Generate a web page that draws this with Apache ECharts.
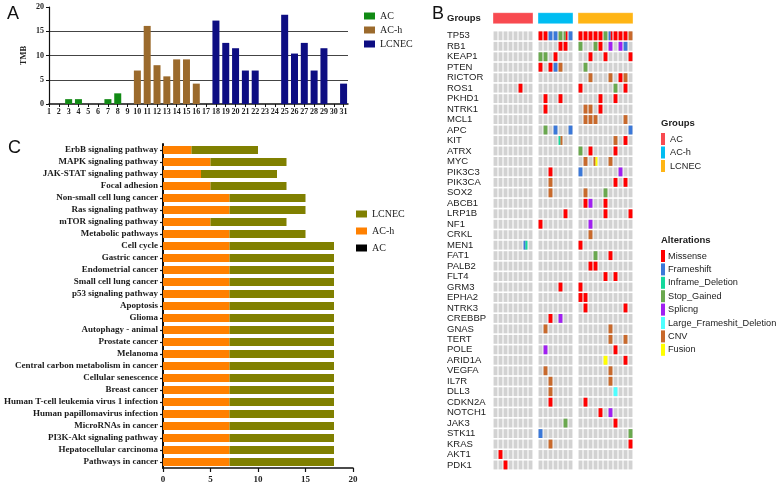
<!DOCTYPE html>
<html><head><meta charset="utf-8">
<script src="https://cdn.jsdelivr.net/npm/echarts@6/dist/echarts.min.js"></script>
<style>html,body{margin:0;padding:0;background:#fff}#c{width:777px;height:485px}</style>
</head><body><div id="c"></div>
<script>
// ---------- Panel A data ----------
const tmbSamples = [1,2,3,4,5,6,7,8,9,10,11,12,13,14,15,16,17,18,19,20,21,22,23,24,25,26,27,28,29,30,31];
const tmbValues  = [0,0,1,1,0,0,1,2.2,0,6.9,16.1,8,5.7,9.2,9.2,4.2,0,17.2,12.6,11.5,6.9,6.9,0,0,18.4,10.4,12.6,6.9,11.5,0,4.2];
const tmbGroups  = ['AC','AC','AC','AC','AC','AC','AC','AC','AC','AC-h','AC-h','AC-h','AC-h','AC-h','AC-h','AC-h','AC-h',
  'LCNEC','LCNEC','LCNEC','LCNEC','LCNEC','LCNEC','LCNEC','LCNEC','LCNEC','LCNEC','LCNEC','LCNEC','LCNEC','LCNEC'];
const groupNames = ['AC','AC-h','LCNEC'];

// ---------- Panel C data ----------
const pathways = ['ErbB signaling pathway','MAPK signaling pathway','JAK-STAT signaling pathway','Focal adhesion',
  'Non-small cell lung cancer','Ras signaling pathway','mTOR signaling pathway','Metabolic pathways','Cell cycle',
  'Gastric cancer','Endometrial cancer','Small cell lung cancer','p53 signaling pathway','Apoptosis','Glioma',
  'Autophagy - animal','Prostate cancer','Melanoma','Central carbon metabolism in cancer','Cellular senescence',
  'Breast cancer','Human T-cell leukemia virus 1 infection','Human papillomavirus infection','MicroRNAs in cancer',
  'PI3K-Akt signaling pathway','Hepatocellular carcinoma','Pathways in cancer'];
const pathAC    = [0,0,0,0,0,0,0,0,0,0,0,0,0,0,0,0,0,0,0,0,0,0,0,0,0,0,0];
const pathACh   = [3,5,4,5,7,7,5,7,7,7,7,7,7,7,7,7,7,7,7,7,7,7,7,7,7,7,7];
const pathLCNEC = [7,8,8,8,8,8,8,8,11,11,11,11,11,11,11,11,11,11,11,11,11,11,11,11,11,11,11];

// ---------- Panel B data ----------
const genes = ['TP53','RB1','KEAP1','PTEN','RICTOR','ROS1','PKHD1','NTRK1','MCL1','APC','KIT','ATRX','MYC','PIK3C3',
  'PIK3CA','SOX2','ABCB1','LRP1B','NF1','CRKL','MEN1','FAT1','PALB2','FLT4','GRM3','EPHA2','NTRK3','CREBBP','GNAS',
  'TERT','POLE','ARID1A','VEGFA','IL7R','DLL3','CDKN2A','NOTCH1','JAK3','STK11','KRAS','AKT1','PDK1'];
const acSamples    = ['AC-1','AC-2','AC-3','AC-4','AC-5','AC-6','AC-7','AC-8'];
const achSamples   = ['ACh-1','ACh-2','ACh-3','ACh-4','ACh-5','ACh-6','ACh-7'];
const lcnecSamples = ['L-1','L-2','L-3','L-4','L-5','L-6','L-7','L-8','L-9','L-10','L-11'];
// [gene, sample index within group, alteration]
const acAlterations = [
  ['ROS1',5,'Missense'],['MEN1',6,'Frameshift'],['MEN1',6,'Inframe_Deletion'],['AKT1',1,'Missense'],['PDK1',2,'Missense']];
const achAlterations = [
  ['TP53',0,'Missense'],['TP53',1,'Missense'],['TP53',2,'Frameshift'],['TP53',3,'Frameshift'],['TP53',4,'Stop_Gained'],
  ['TP53',5,'Stop_Gained'],['TP53',5,'Missense'],['TP53',6,'Frameshift'],
  ['RB1',4,'Missense'],['RB1',5,'Missense'],
  ['KEAP1',0,'Stop_Gained'],['KEAP1',1,'Stop_Gained'],['KEAP1',3,'Missense'],
  ['PTEN',0,'Missense'],['PTEN',2,'Missense'],['PTEN',3,'Frameshift'],['PTEN',4,'CNV'],
  ['PKHD1',1,'Missense'],['PKHD1',4,'Missense'],['NTRK1',1,'Missense'],
  ['APC',1,'Stop_Gained'],['APC',3,'Frameshift'],['APC',6,'Frameshift'],
  ['KIT',4,'Inframe_Deletion'],['KIT',4,'CNV'],
  ['PIK3C3',2,'Missense'],['PIK3CA',2,'CNV'],['SOX2',2,'CNV'],['LRP1B',5,'Missense'],['NF1',0,'Missense'],
  ['GRM3',4,'Missense'],['CREBBP',2,'Missense'],['CREBBP',4,'Splicng'],['GNAS',1,'CNV'],['POLE',1,'Splicng'],
  ['VEGFA',1,'CNV'],['IL7R',2,'CNV'],['DLL3',2,'CNV'],['CDKN2A',2,'Missense'],['JAK3',5,'Stop_Gained'],
  ['STK11',0,'Frameshift'],['KRAS',2,'CNV']];
const lcnecAlterations = [
  ['TP53',0,'Missense'],['TP53',1,'Missense'],['TP53',2,'Missense'],['TP53',3,'Missense'],['TP53',4,'Missense'],
  ['TP53',5,'Stop_Gained'],['TP53',6,'Frameshift'],['TP53',6,'Missense'],['TP53',7,'Missense'],['TP53',8,'Missense'],
  ['TP53',9,'Missense'],['TP53',10,'CNV'],
  ['RB1',0,'Stop_Gained'],['RB1',3,'Stop_Gained'],['RB1',4,'Missense'],['RB1',6,'Splicng'],['RB1',8,'Splicng'],['RB1',9,'Frameshift'],
  ['KEAP1',2,'Missense'],['KEAP1',5,'Missense'],['KEAP1',10,'Missense'],
  ['PTEN',1,'Stop_Gained'],
  ['RICTOR',2,'CNV'],['RICTOR',6,'CNV'],['RICTOR',8,'Missense'],['RICTOR',9,'CNV'],
  ['ROS1',0,'Missense'],['ROS1',7,'Stop_Gained'],['ROS1',9,'Missense'],
  ['PKHD1',4,'Missense'],['PKHD1',7,'Missense'],
  ['NTRK1',1,'CNV'],['NTRK1',2,'CNV'],['NTRK1',4,'Missense'],
  ['MCL1',1,'CNV'],['MCL1',2,'CNV'],['MCL1',3,'CNV'],['MCL1',9,'CNV'],
  ['APC',10,'Frameshift'],['KIT',7,'CNV'],['KIT',9,'Missense'],
  ['ATRX',0,'Stop_Gained'],['ATRX',2,'Missense'],['ATRX',7,'Missense'],
  ['MYC',1,'CNV'],['MYC',3,'CNV'],['MYC',3,'Fusion'],['MYC',6,'CNV'],
  ['PIK3C3',0,'Frameshift'],['PIK3C3',8,'Splicng'],['PIK3CA',7,'Missense'],['PIK3CA',9,'Missense'],
  ['SOX2',1,'CNV'],['SOX2',5,'Stop_Gained'],
  ['ABCB1',1,'Missense'],['ABCB1',2,'Splicng'],['ABCB1',5,'Missense'],
  ['LRP1B',5,'Missense'],['LRP1B',10,'Missense'],['NF1',2,'Splicng'],['CRKL',2,'CNV'],['MEN1',0,'Missense'],
  ['FAT1',3,'Stop_Gained'],['FAT1',6,'Missense'],['PALB2',2,'Missense'],['PALB2',3,'Missense'],
  ['FLT4',5,'Missense'],['FLT4',7,'Missense'],['GRM3',0,'Missense'],['EPHA2',0,'Missense'],['EPHA2',1,'Missense'],
  ['NTRK3',1,'Missense'],['NTRK3',9,'Missense'],['GNAS',6,'CNV'],['TERT',6,'CNV'],['TERT',9,'CNV'],
  ['POLE',7,'Missense'],['ARID1A',5,'Fusion'],['ARID1A',9,'Missense'],['VEGFA',6,'CNV'],['IL7R',6,'CNV'],
  ['DLL3',7,'Large_Frameshit_Deletion'],['CDKN2A',1,'Missense'],['NOTCH1',4,'Missense'],['NOTCH1',6,'Splicng'],
  ['JAK3',7,'Missense'],['STK11',10,'Stop_Gained'],['KRAS',10,'Missense']];
const altTypes = ['Missense','Frameshift','Inframe_Deletion','Stop_Gained','Splicng','Large_Frameshit_Deletion','CNV','Fusion'];

// ---------- styles ----------
const colA = {'AC':'#118a14','AC-h':'#9b6a2c','LCNEC':'#0d0d82'};
const colC = {'AC':'#000000','AC-h':'#ff8000','LCNEC':'#808000'};
const colB = {'AC':'#f84a50','AC-h':'#00bdf2','LCNEC':'#ffb515'};
const altColors = {Missense:'#ff0000',Frameshift:'#3b78d8',Inframe_Deletion:'#14d89c',Stop_Gained:'#6aa84f',
  Splicng:'#a020f0',Large_Frameshit_Deletion:'#4dffff',CNV:'#c8692c',Fusion:'#ffff00'};
const SERIF = 'Liberation Serif', SANS = 'Liberation Sans';

// ---------- build B columns ----------
const groupDefs = [
  {name:'AC', samples:acSamples, alts:acAlterations},
  {name:'AC-h', samples:achSamples, alts:achAlterations},
  {name:'LCNEC', samples:lcnecSamples, alts:lcnecAlterations}];
const colCats = [];
groupDefs.forEach((g,i)=>{ g.start = colCats.length; g.samples.forEach(s=>colCats.push(s)); g.end = colCats.length-1; if(i<2) colCats.push('gap'+i); });
const bgData = [];
groupDefs.forEach(g=>{ g.samples.forEach((s,si)=>{ genes.forEach((gn,gi)=>bgData.push([g.start+si, gi])); }); });
const cellMap = {};
groupDefs.forEach(g=>{ g.alts.forEach(a=>{ const key=(g.start+a[1])+'|'+genes.indexOf(a[0]); (cellMap[key]=cellMap[key]||[]).push(a[2]); }); });
const typeData = {}; altTypes.forEach(t=>typeData[t]=[]);
Object.keys(cellMap).forEach(key=>{ const [c,g]=key.split('|').map(Number); const list=cellMap[key];
  list.forEach((t,k)=>typeData[t].push([c,g,k,list.length])); });

function cellRender(color){ return function(params, api){
  const p = api.coord([api.value(0), api.value(1)]); const s = api.size([1,1]);
  const w = s[0]-1.1, h = s[1]-1.6; const parts = api.value(3) || 1, k = api.value(2) || 0;
  return {type:'rect', shape:{x:p[0]-w/2+k*w/parts, y:p[1]-h/2, width:w/parts, height:h}, style:{fill:color}};
};}

const series = [];
// Panel A
groupNames.forEach(gname=>{
  const d = []; tmbSamples.forEach((s,i)=>{ if(tmbGroups[i]===gname) d.push([s, tmbValues[i]]); });
  series.push({name:gname, type:'bar', xAxisIndex:0, yAxisIndex:0, data:d, barWidth:7, barGap:'-100%',
    itemStyle:{color:colA[gname]}, silent:true});
});
// Panel C
[['AC',pathAC],['AC-h',pathACh],['LCNEC',pathLCNEC]].forEach(([n,arr])=>{
  series.push({name:n, type:'bar', xAxisIndex:1, yAxisIndex:1, stack:'path', data:arr, barWidth:8,
    itemStyle:{color:colC[n]}, silent:true});
});
// Panel B header
series.push({name:'groupHeader', type:'custom', xAxisIndex:2, yAxisIndex:2, silent:true,
  data: groupDefs.map(g=>[g.start, g.end, 0]), encode:{x:[0,1], y:2},
  renderItem:function(params, api){
    const a = api.coord([api.value(0),0]), b = api.coord([api.value(1),0]); const s = api.size([1,1]);
    return {type:'rect', shape:{x:a[0]-s[0]/2, y:a[1]-s[1]/2, width:b[0]-a[0]+s[0], height:s[1]},
      style:{fill:colB[groupDefs[params.dataIndex].name], stroke:'rgba(255,255,255,0.6)', lineWidth:0.6}};
  }});
series.push({name:'bg', type:'custom', xAxisIndex:3, yAxisIndex:3, silent:true, data:bgData, encode:{x:0,y:1},
  renderItem:cellRender('#d2d2d2')});
altTypes.forEach(t=>{
  series.push({name:t, type:'custom', xAxisIndex:3, yAxisIndex:3, silent:true, z:3, data:typeData[t], encode:{x:0,y:1},
    itemStyle:{color:altColors[t]}, renderItem:cellRender(altColors[t])});
});

const option = {
  animation:false,
  backgroundColor:'#ffffff',
  title:[
    {text:'A', left:2, top:0, textStyle:{fontFamily:SANS, fontSize:18, fontWeight:'normal', color:'#111'}},
    {text:'B', left:427, top:0, textStyle:{fontFamily:SANS, fontSize:18, fontWeight:'normal', color:'#111'}},
    {text:'C', left:3, top:134, textStyle:{fontFamily:SANS, fontSize:18, fontWeight:'normal', color:'#111'}},
    {text:'Groups', left:656, top:113, textStyle:{fontFamily:SANS, fontSize:9.5, fontWeight:'bold', color:'#222'}},
    {text:'Alterations', left:656, top:230, textStyle:{fontFamily:SANS, fontSize:9.5, fontWeight:'bold', color:'#222'}}
  ],
  legend:[
    {left:359, top:6, orient:'vertical', icon:'rect', itemWidth:11, itemHeight:7, itemGap:4, selectedMode:false,
      textStyle:{fontFamily:SERIF, fontSize:10, color:'#222'},
      data:groupNames.map(n=>({name:n, itemStyle:{color:colA[n]}}))},
    {left:351, top:204, orient:'vertical', icon:'rect', itemWidth:11, itemHeight:7, itemGap:7, selectedMode:false,
      textStyle:{fontFamily:SERIF, fontSize:10, color:'#222'},
      data:['LCNEC','AC-h','AC'].map(n=>({name:n, itemStyle:{color:colC[n]}}))},
    {left:656, top:128, orient:'vertical', icon:'rect', itemWidth:4, itemHeight:12, itemGap:1.5, selectedMode:false,
      textStyle:{fontFamily:SANS, fontSize:9.2, color:'#222'},
      data:groupNames.map(n=>({name:n, itemStyle:{color:colB[n]}}))},
    {left:656, top:245, orient:'vertical', icon:'rect', itemWidth:4, itemHeight:12, itemGap:1.4, selectedMode:false,
      itemStyle:{}, textStyle:{fontFamily:SANS, fontSize:9.2, color:'#222', padding:[0,0,0,-2]},
      data:altTypes.map(n=>({name:n, itemStyle:{color:altColors[n]}}))}
  ],
  grid:[
    {left:49, top:7, width:299, height:97},
    {left:163, top:144, width:190, height:324},
    {left:493, top:12.7, width:140, height:11},
    {left:493, top:30.6, width:140, height:439.6}
  ],
  xAxis:[
    {gridIndex:0, type:'value', min:1, max:31.45,
      axisLine:{show:true, lineStyle:{color:'#111', width:1.5}},
      axisTick:{show:true, length:3, customValues:tmbSamples, lineStyle:{color:'#111'}},
      axisLabel:{customValues:tmbSamples, fontFamily:SERIF, fontWeight:'bold', fontSize:8, color:'#222', margin:4,
        formatter:v=>Number.isInteger(v)?String(v):''},
      splitLine:{show:false}},
    {gridIndex:1, type:'value', min:0, max:20, interval:5,
      axisLine:{show:true, lineStyle:{color:'#111', width:1.5}},
      axisTick:{show:true, length:4, lineStyle:{color:'#111', width:1.2}},
      axisLabel:{fontFamily:SERIF, fontWeight:'bold', fontSize:9, color:'#222', margin:7},
      splitLine:{show:false}},
    {gridIndex:2, type:'category', data:colCats, show:false},
    {gridIndex:3, type:'category', data:colCats, show:false}
  ],
  yAxis:[
    {gridIndex:0, type:'value', min:0, max:20, interval:5, name:'TMB', nameLocation:'middle', nameGap:21,
      nameTextStyle:{fontFamily:SERIF, fontWeight:'bold', fontSize:8.5, color:'#222'},
      axisLine:{show:true, lineStyle:{color:'#111', width:1.2}},
      axisTick:{show:true, length:3, lineStyle:{color:'#111'}},
      axisLabel:{fontFamily:SERIF, fontWeight:'bold', fontSize:8, color:'#222', margin:5},
      splitLine:{show:true, showMinLine:false, showMaxLine:false, lineStyle:{color:'#444', width:1}}},
    {gridIndex:1, type:'category', data:pathways, inverse:true,
      axisLine:{show:true, lineStyle:{color:'#111', width:2}},
      axisTick:{show:true, length:3, alignWithLabel:true, lineStyle:{color:'#111', width:1.2}},
      axisLabel:{fontFamily:SERIF, fontWeight:'bold', fontSize:9, color:'#1a1a1a', margin:5, interval:0}},
    {gridIndex:2, type:'category', data:['Groups'],
      axisLine:{show:false}, axisTick:{show:false},
      axisLabel:{align:'left', margin:46, fontFamily:SANS, fontWeight:'bold', fontSize:9.5, color:'#222'}},
    {gridIndex:3, type:'category', data:genes, inverse:true,
      axisLine:{show:false}, axisTick:{show:false},
      axisLabel:{align:'left', margin:46, fontFamily:SANS, fontSize:9.5, color:'#222', interval:0}}
  ],
  series:series
};
const chart = echarts.init(document.getElementById('c'), null, {renderer:'canvas'});
chart.setOption(option);
</script></body></html>
